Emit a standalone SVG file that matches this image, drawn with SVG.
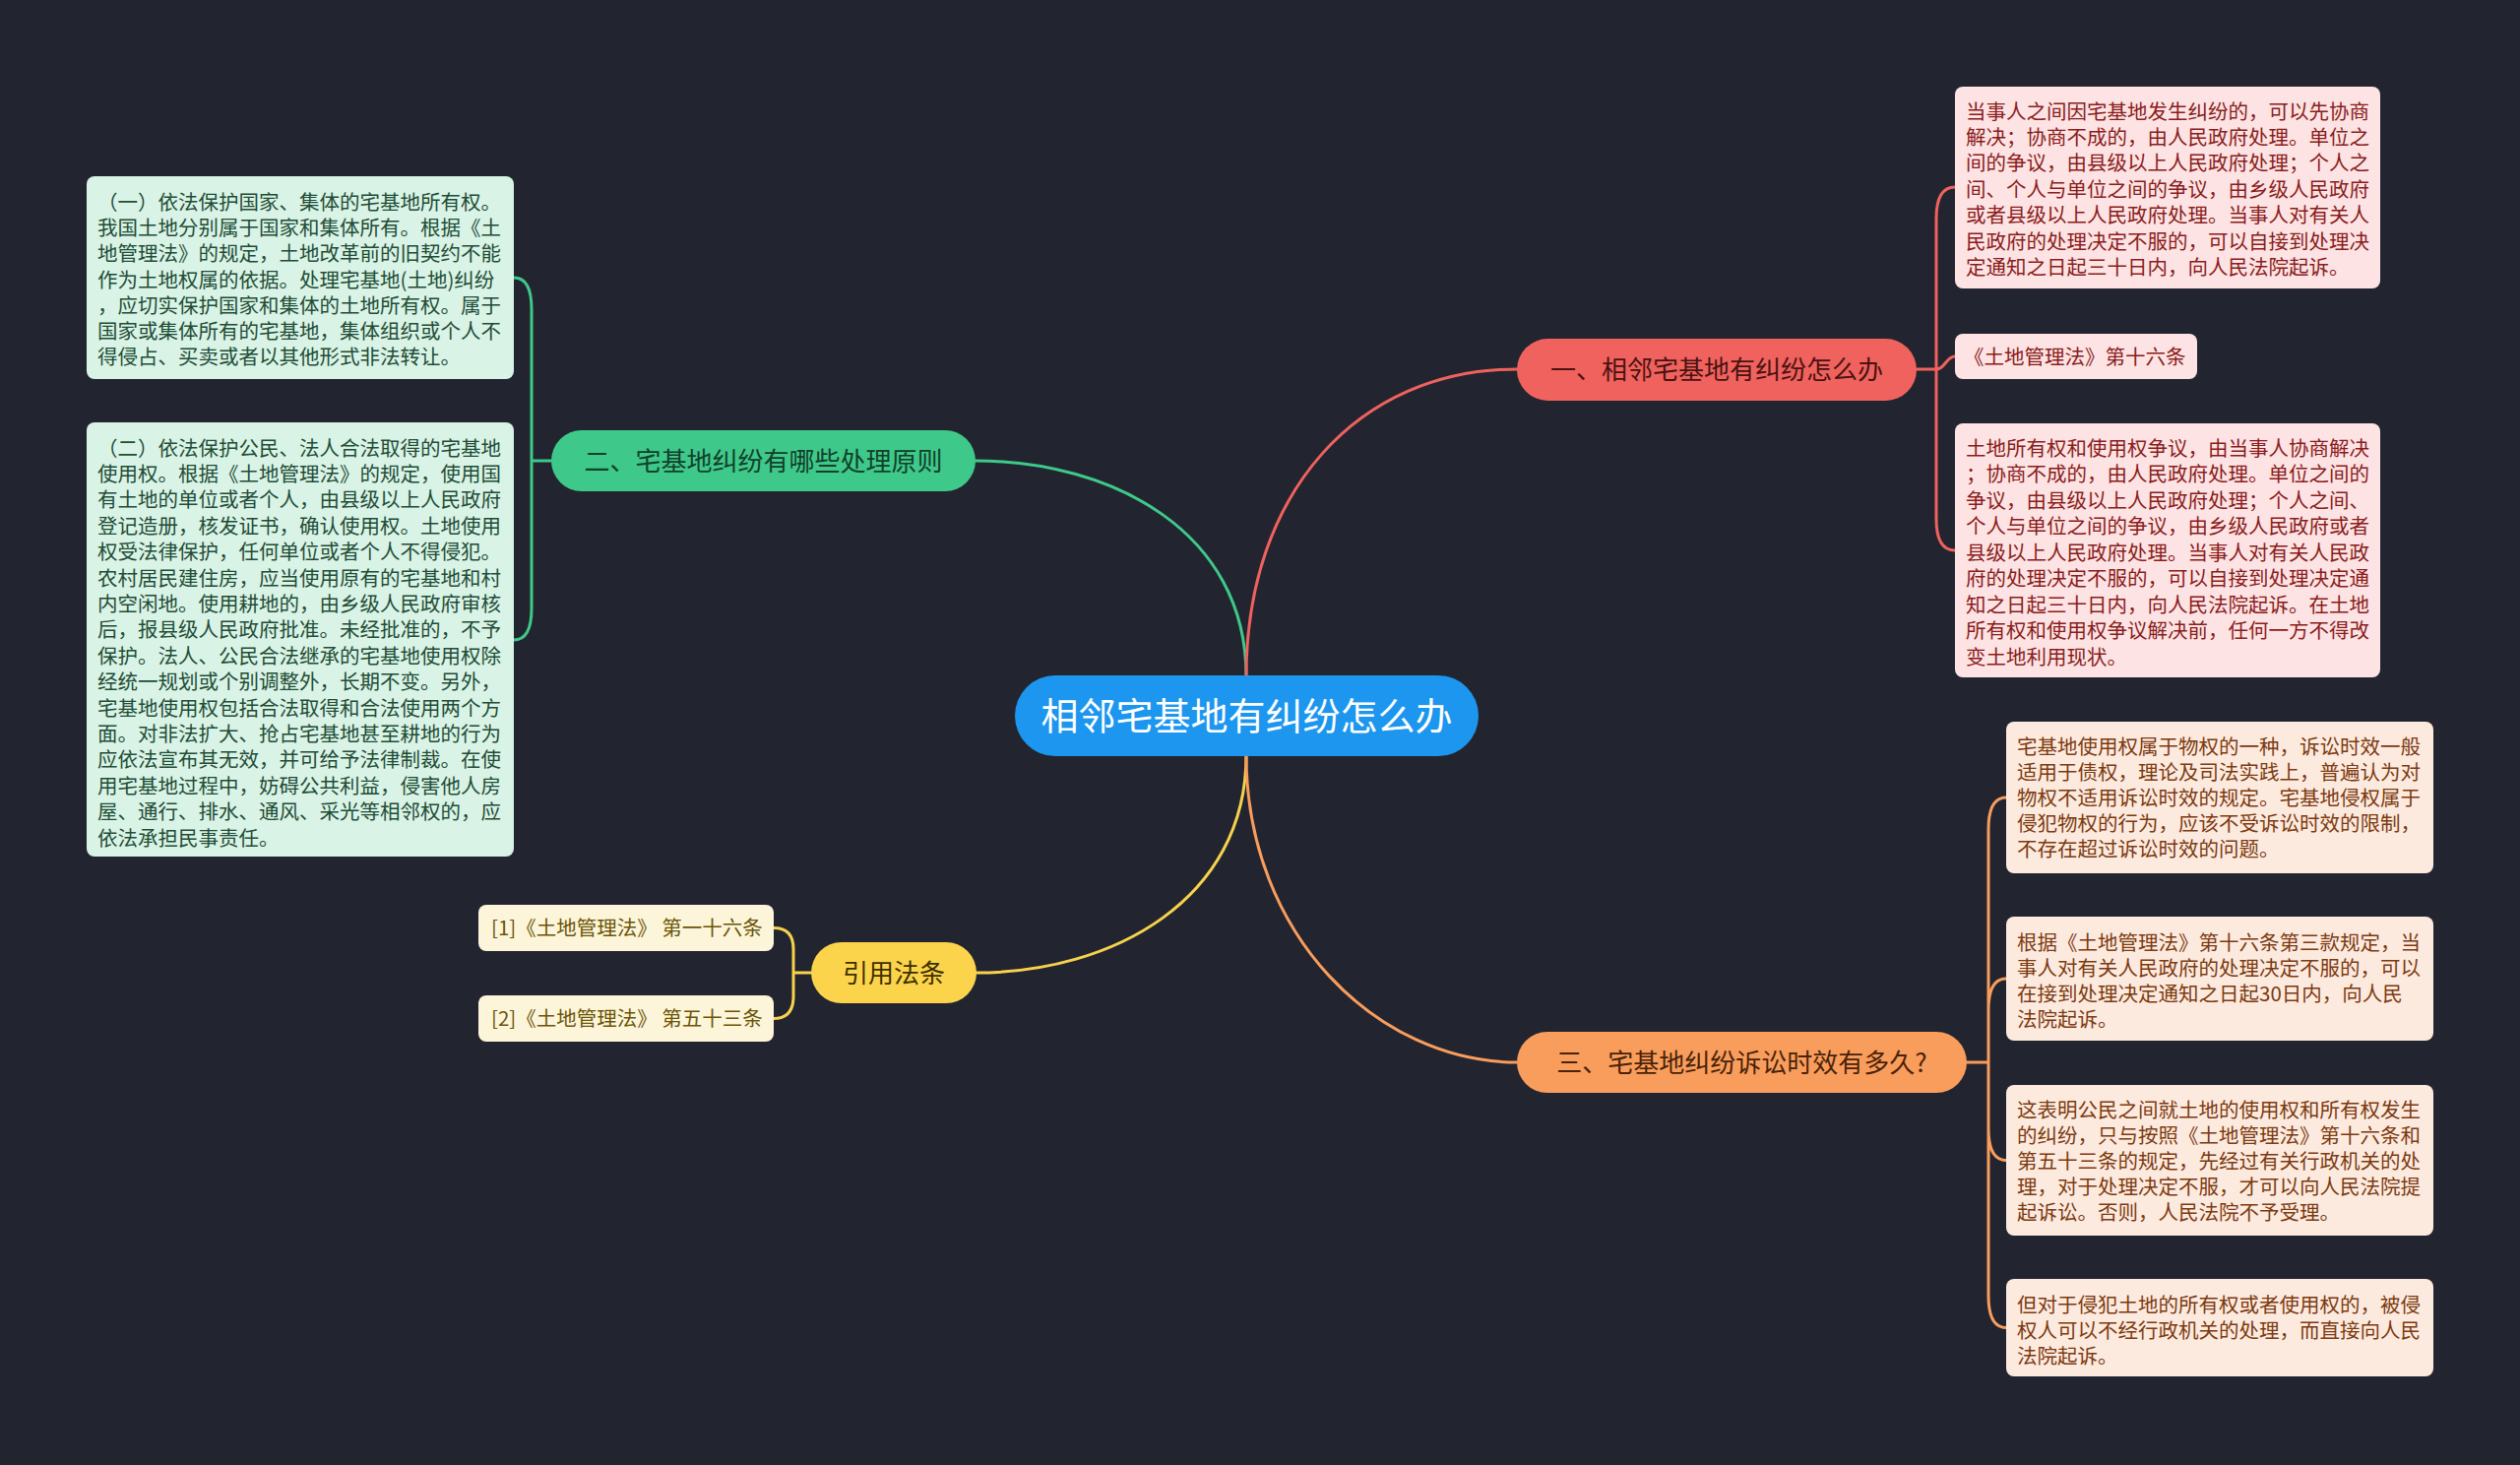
<svg xmlns="http://www.w3.org/2000/svg" width="2560" height="1488" viewBox="0 0 2560 1488">
<style>
text{font-family:"Noto Sans CJK SC","Noto Sans",sans-serif}
.bt{font-size:20.5px}
.nt{font-size:26px;text-anchor:middle}
.c{fill:none;stroke-width:3;stroke-linecap:round}
.cg{stroke:#3ec98a}.cr{stroke:#ef625d}.cy{stroke:#f7d24c}.co{stroke:#f99d5c}
.bg{fill:#d9f3e6}.tg{fill:#1f4d36}
.br{fill:#fde3e3}.tr{fill:#8a1c1c}
.bo{fill:#fdeadf}.to{fill:#7c3a10}
.by{fill:#fdf5da}.ty{fill:#6b5508}
</style>
<rect width="2560" height="1488" fill="#222530"/>
<g id="connectors">
<path class="c cg" d="M1266 687 C1266 540 1130 468 991 468"/>
<path class="c cr" d="M1266 687 C1266 500 1380 375 1541 375"/>
<path class="c cy" d="M1266 767 C1266 914 1130 988 992 988"/>
<path class="c co" d="M1266 767 C1266 950 1400 1079 1541 1079"/>
<path class="c cr" d="M1947 375 L1967 375 M1967 375 L1967 222 Q1967 190 1986 190 M1967 375 C1976 375 1977 362 1986 362 M1967 375 L1967 527 Q1967 559 1986 559"/>
<path class="c cg" d="M560 468 L540 468 M540 468 L540 314 Q540 282 522 282 M540 468 L540 618 Q540 650 522 650"/>
<path class="c cy" d="M824 988 L806 988 M806 988 L806 964 Q806 942.5 786 942.5 M806 988 L806 1012 Q806 1034.5 786 1034.5"/>
<path class="c co" d="M1998 1079 L2020 1079 M2020 1079 L2020 842 Q2020 810 2038 810 M2020 1079 L2020 1026 Q2020 994 2038 994 M2020 1079 L2020 1146 Q2020 1178.5 2038 1178.5 M2020 1079 L2020 1316 Q2020 1348.5 2038 1348.5"/>
</g>
<g id="root">
<rect x="1031" y="686" width="471" height="82" rx="41" fill="#1c96ee"/>
<text x="1266.5" y="741" font-size="38" text-anchor="middle" fill="#ffffff">相邻宅基地有纠纷怎么办</text>
</g>
<g id="branch1">
<rect x="1541" y="344" width="406" height="63" rx="31.5" fill="#f0625d"/>
<text class="nt" x="1744" y="385" fill="#4a1212">一、相邻宅基地有纠纷怎么办</text>
</g>
<g id="branch2">
<rect x="560" y="437" width="431" height="62" rx="31" fill="#3ec98a"/>
<text class="nt" x="775.5" y="478" fill="#12402a">二、宅基地纠纷有哪些处理原则</text>
</g>
<g id="branch3">
<rect x="1541" y="1048" width="457" height="62" rx="31" fill="#f99d5c"/>
<text class="nt" x="1769.5" y="1089" fill="#4a2208">三、宅基地纠纷诉讼时效有多久?</text>
</g>
<g id="branch4">
<rect x="824" y="957" width="168" height="62" rx="31" fill="#fcd44c"/>
<text class="nt" x="908" y="998" fill="#3d3000">引用法条</text>
</g>
<g id="g1">
<rect class="bg" x="88" y="179" width="434" height="206" rx="8"/>
<text class="bt tg" x="99" y="212.6"><tspan x="99">（一）依法保护国家、集体的宅基地所有权。</tspan><tspan x="99" dy="26.3">我国土地分别属于国家和集体所有。根据《土</tspan><tspan x="99" dy="26.3">地管理法》的规定，土地改革前的旧契约不能</tspan><tspan x="99" dy="26.3">作为土地权属的依据。处理宅基地(土地)纠纷</tspan><tspan x="99" dy="26.3">，应切实保护国家和集体的土地所有权。属于</tspan><tspan x="99" dy="26.3">国家或集体所有的宅基地，集体组织或个人不</tspan><tspan x="99" dy="26.3">得侵占、买卖或者以其他形式非法转让。</tspan></text>
</g>
<g id="g2">
<rect class="bg" x="88" y="429" width="434" height="441" rx="8"/>
<text class="bt tg" x="99" y="462.6"><tspan x="99">（二）依法保护公民、法人合法取得的宅基地</tspan><tspan x="99" dy="26.4">使用权。根据《土地管理法》的规定，使用国</tspan><tspan x="99" dy="26.4">有土地的单位或者个人，由县级以上人民政府</tspan><tspan x="99" dy="26.4">登记造册，核发证书，确认使用权。土地使用</tspan><tspan x="99" dy="26.4">权受法律保护，任何单位或者个人不得侵犯。</tspan><tspan x="99" dy="26.4">农村居民建住房，应当使用原有的宅基地和村</tspan><tspan x="99" dy="26.4">内空闲地。使用耕地的，由乡级人民政府审核</tspan><tspan x="99" dy="26.4">后，报县级人民政府批准。未经批准的，不予</tspan><tspan x="99" dy="26.4">保护。法人、公民合法继承的宅基地使用权除</tspan><tspan x="99" dy="26.4">经统一规划或个别调整外，长期不变。另外，</tspan><tspan x="99" dy="26.4">宅基地使用权包括合法取得和合法使用两个方</tspan><tspan x="99" dy="26.4">面。对非法扩大、抢占宅基地甚至耕地的行为</tspan><tspan x="99" dy="26.4">应依法宣布其无效，并可给予法律制裁。在使</tspan><tspan x="99" dy="26.4">用宅基地过程中，妨碍公共利益，侵害他人房</tspan><tspan x="99" dy="26.4">屋、通行、排水、通风、采光等相邻权的，应</tspan><tspan x="99" dy="26.4">依法承担民事责任。</tspan></text>
</g>
<g id="r1">
<rect class="br" x="1986" y="88" width="432" height="205" rx="8"/>
<text class="bt tr" x="1997" y="120.6"><tspan x="1997">当事人之间因宅基地发生纠纷的，可以先协商</tspan><tspan x="1997" dy="26.4">解决；协商不成的，由人民政府处理。单位之</tspan><tspan x="1997" dy="26.4">间的争议，由县级以上人民政府处理；个人之</tspan><tspan x="1997" dy="26.4">间、个人与单位之间的争议，由乡级人民政府</tspan><tspan x="1997" dy="26.4">或者县级以上人民政府处理。当事人对有关人</tspan><tspan x="1997" dy="26.4">民政府的处理决定不服的，可以自接到处理决</tspan><tspan x="1997" dy="26.4">定通知之日起三十日内，向人民法院起诉。</tspan></text>
</g>
<g id="r2">
<rect class="br" x="1986" y="339" width="246" height="46" rx="8"/>
<text class="bt tr" x="1995" y="369.6">《土地管理法》第十六条</text>
</g>
<g id="r3">
<rect class="br" x="1986" y="430" width="432" height="258" rx="8"/>
<text class="bt tr" x="1997" y="462.6"><tspan x="1997">土地所有权和使用权争议，由当事人协商解决</tspan><tspan x="1997" dy="26.5">；协商不成的，由人民政府处理。单位之间的</tspan><tspan x="1997" dy="26.5">争议，由县级以上人民政府处理；个人之间、</tspan><tspan x="1997" dy="26.5">个人与单位之间的争议，由乡级人民政府或者</tspan><tspan x="1997" dy="26.5">县级以上人民政府处理。当事人对有关人民政</tspan><tspan x="1997" dy="26.5">府的处理决定不服的，可以自接到处理决定通</tspan><tspan x="1997" dy="26.5">知之日起三十日内，向人民法院起诉。在土地</tspan><tspan x="1997" dy="26.5">所有权和使用权争议解决前，任何一方不得改</tspan><tspan x="1997" dy="26.5">变土地利用现状。</tspan></text>
</g>
<g id="o1">
<rect class="bo" x="2038" y="733" width="434" height="154" rx="8"/>
<text class="bt to" x="2049" y="765.6"><tspan x="2049">宅基地使用权属于物权的一种，诉讼时效一般</tspan><tspan x="2049" dy="26.2">适用于债权，理论及司法实践上，普遍认为对</tspan><tspan x="2049" dy="26.2">物权不适用诉讼时效的规定。宅基地侵权属于</tspan><tspan x="2049" dy="26.2">侵犯物权的行为，应该不受诉讼时效的限制，</tspan><tspan x="2049" dy="26.2">不存在超过诉讼时效的问题。</tspan></text>
</g>
<g id="o2">
<rect class="bo" x="2038" y="931" width="434" height="126" rx="8"/>
<text class="bt to" x="2049" y="964.6"><tspan x="2049">根据《土地管理法》第十六条第三款规定，当</tspan><tspan x="2049" dy="26.2">事人对有关人民政府的处理决定不服的，可以</tspan><tspan x="2049" dy="26.2">在接到处理决定通知之日起30日内，向人民</tspan><tspan x="2049" dy="26.2">法院起诉。</tspan></text>
</g>
<g id="o3">
<rect class="bo" x="2038" y="1102" width="434" height="153" rx="8"/>
<text class="bt to" x="2049" y="1134.6"><tspan x="2049">这表明公民之间就土地的使用权和所有权发生</tspan><tspan x="2049" dy="26.2">的纠纷，只与按照《土地管理法》第十六条和</tspan><tspan x="2049" dy="26.2">第五十三条的规定，先经过有关行政机关的处</tspan><tspan x="2049" dy="26.2">理，对于处理决定不服，才可以向人民法院提</tspan><tspan x="2049" dy="26.2">起诉讼。否则，人民法院不予受理。</tspan></text>
</g>
<g id="o4">
<rect class="bo" x="2038" y="1299" width="434" height="99" rx="8"/>
<text class="bt to" x="2049" y="1332.6"><tspan x="2049">但对于侵犯土地的所有权或者使用权的，被侵</tspan><tspan x="2049" dy="26.2">权人可以不经行政机关的处理，而直接向人民</tspan><tspan x="2049" dy="26.2">法院起诉。</tspan></text>
</g>
<g id="y1">
<rect class="by" x="486" y="919" width="300" height="47" rx="8"/>
<text class="bt ty" x="499" y="950">[1]《土地管理法》 第一十六条</text>
</g>
<g id="y2">
<rect class="by" x="486" y="1011" width="300" height="47" rx="8"/>
<text class="bt ty" x="499" y="1042">[2]《土地管理法》 第五十三条</text>
</g>
</svg>
